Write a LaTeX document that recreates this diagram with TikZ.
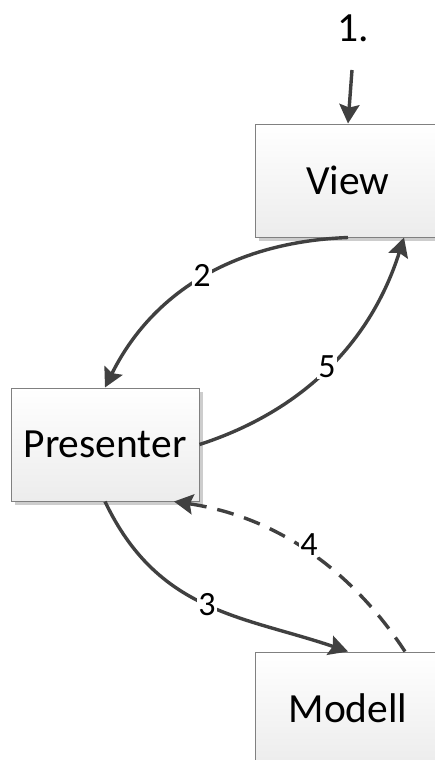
\documentclass[tikz,border=0pt]{standalone}
\usepackage{fontspec}
\setmainfont{Carlito}
\usetikzlibrary{arrows.meta,shadows}
\definecolor{dark}{RGB}{64,64,64}
\definecolor{boxline}{RGB}{128,128,128}
\definecolor{boxbottom}{RGB}{236,236,236}
\definecolor{shadowc}{RGB}{205,205,205}
\begin{document}
\begin{tikzpicture}[x=1pt,y=-1pt,
  box/.style={draw=boxline, line width=1pt, minimum width=186pt, minimum height=113pt,
    top color=white, bottom color=boxbottom, inner sep=0pt,
    drop shadow={shadow xshift=4pt, shadow yshift=-4pt, fill=shadowc, opacity=1},
    font=\fontsize{41.5}{48}\selectfont},
  conn/.style={line width=3.4pt, draw=dark, -{Stealth[length=19pt,width=20pt,inset=3pt]}},
  dconn/.style={conn, dash pattern=on 17pt off 11pt},
  lbl/.style={fill=white, inner sep=1pt, font=\fontsize{34}{38}\selectfont},
  txt/.style={inner sep=0pt, font=\fontsize{41.5}{48}\selectfont}
]
\useasboundingbox (0,0) rectangle (435,760);
\clip (0,0) rectangle (435,760);
\node[box] (V) at (348,180.5) {View};
\node[box, minimum width=188pt] (P) at (105,444.5) {Presenter};
\node[box] (M) at (348,708.5) {Modell};
\node[txt] (t1) at (353,28) {1.};
\coordinate (s1) at (352,70);
\draw[conn] (s1) -- (V.north);
\draw[conn] (V.south) .. controls (233,242) and (152,293) .. (P.north);
\draw[conn] (P.east) .. controls (303,411) and (371,342) .. ([xshift=56pt]V.south);
\draw[conn] (P.south) .. controls (158,613) and (243.5,616) .. (M.north);
\draw[dconn] ([xshift=57pt]M.north) .. controls (349,566) and (272,516) .. ([xshift=69pt]P.south);
\node[lbl] (l2) at (202,275) {2};
\node[lbl] (l5) at (327,367) {5};
\node[lbl] (l3) at (207,605) {3};
\node[lbl] (l4) at (309,545) {4};
\end{tikzpicture}
\end{document}
